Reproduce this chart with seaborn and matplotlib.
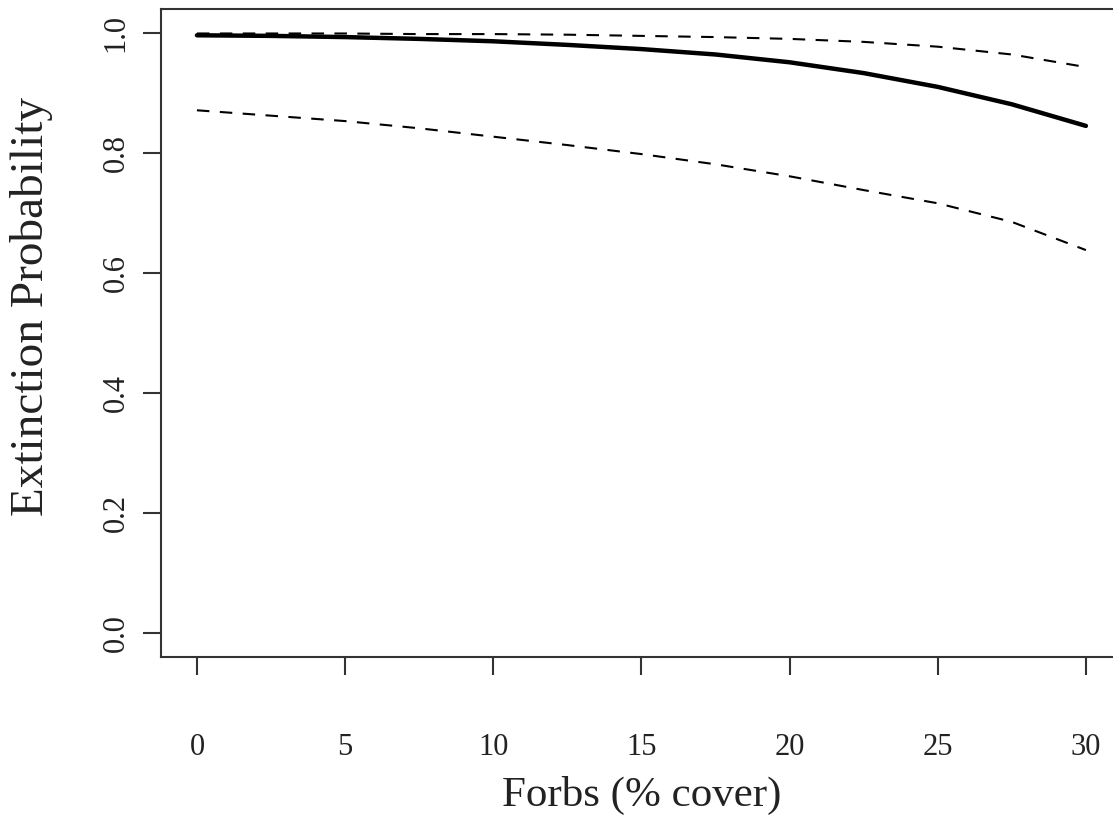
import matplotlib
matplotlib.use("Agg")
import matplotlib.pyplot as plt
import seaborn as sns
import pandas as pd

# Forb cover (%) and predicted extinction probability with confidence bounds
forbs_cover = [0, 2.5, 5, 7.5, 10, 12.5, 15, 17.5, 20, 22.5, 25, 27.5, 30]
extinction_prob = [0.996, 0.995, 0.993, 0.990, 0.986, 0.980, 0.973, 0.964,
                   0.951, 0.933, 0.910, 0.881, 0.845]
upper_bound = [0.999, 0.999, 0.999, 0.998, 0.998, 0.997, 0.995, 0.993,
               0.990, 0.985, 0.977, 0.964, 0.943]
lower_bound = [0.871, 0.862, 0.853, 0.841, 0.827, 0.813, 0.798, 0.781,
               0.761, 0.738, 0.716, 0.685, 0.638]

x_ticks = [0, 5, 10, 15, 20, 25, 30]
y_ticks = [0.0, 0.2, 0.4, 0.6, 0.8, 1.0]

df = pd.DataFrame({
    "forbs": forbs_cover,
    "fit": extinction_prob,
    "upper": upper_bound,
    "lower": lower_bound,
})

sns.set_theme(style="ticks")
plt.rcParams["font.family"] = ["Liberation Serif", "DejaVu Serif"]

text_color = "#222222"
axis_color = "#333333"

fig = plt.figure(figsize=(11.13, 8.15), dpi=100)
ax = fig.add_axes([0.145, 0.194, 0.8626, 0.7951])

sns.lineplot(data=df, x="forbs", y="fit", ax=ax, color="black", lw=3.2)
sns.lineplot(data=df, x="forbs", y="upper", ax=ax, color="black", lw=1.5,
             linestyle=(0, (6, 5)))
sns.lineplot(data=df, x="forbs", y="lower", ax=ax, color="black", lw=1.5,
             linestyle=(0, (6, 5)))

ax.set_xlim(-1.2, 31.2)
ax.set_ylim(-0.04, 1.04)
ax.set_xticks(x_ticks)
ax.set_xticklabels([str(v) for v in x_ticks])
ax.set_yticks(y_ticks)
ax.set_yticklabels([f"{v:.1f}" for v in y_ticks], rotation=90, va="center")

for side in ["left", "bottom", "top", "right"]:
    ax.spines[side].set_visible(True)
    ax.spines[side].set_color(axis_color)
    ax.spines[side].set_linewidth(1.5)

ax.tick_params(axis="both", direction="out", length=13, width=1.5,
               color=axis_color, labelsize=22, labelcolor=text_color)
ax.tick_params(axis="x", pad=42)
ax.tick_params(axis="y", pad=9)

ax.set_xlabel("Forbs (% cover)", fontsize=31, color=text_color)
ax.set_ylabel("Extinction Probability", fontsize=34, color=text_color)
ax.xaxis.set_label_coords(0.5, -0.183)
ax.yaxis.set_label_coords(-0.113, 0.541)

fig.savefig("out.png", dpi=100, facecolor="white")
